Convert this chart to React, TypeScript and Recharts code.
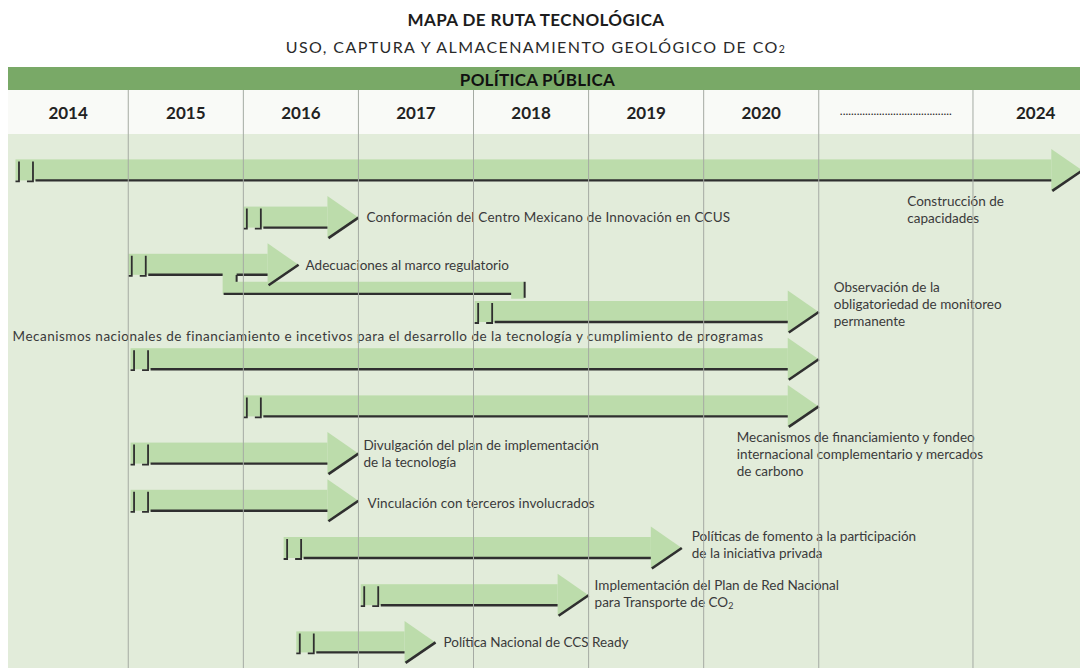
import { Bar, BarChart, ReferenceLine, XAxis, YAxis } from 'recharts';

// Filas del mapa de ruta (de arriba a abajo)
const TASKS = [
  'Construcción de\ncapacidades',
  'Conformación del Centro Mexicano de Innovación en CCUS',
  'Adecuaciones al marco regulatorio',
  'Observación de la\nobligatoriedad de monitoreo\npermanente',
  'Mecanismos nacionales de financiamiento e incetivos para el desarrollo de la tecnología y cumplimiento de programas',
  'Mecanismos de financiamiento y fondeo\ninternacional complementario y mercados\nde carbono',
  'Divulgación del plan de implementación\nde la tecnología',
  'Vinculación con terceros involucrados',
  'Políticas de fomento a la participación\nde la iniciativa privada',
  'Implementación del Plan de Red Nacional\npara Transporte de CO₂',
  'Política Nacional de CCS Ready',
];

// inicio / fin de cada flecha, en columnas (2014 = 0 … 2020 = 6)
const STARTS = [0.02, 2.0, 1.0, 4.01, 1.02, 2.0, 1.02, 1.02, 2.35, 3.02, 2.46];
const ENDS = [9.29, 3.0, 2.48, 7.0, 7.0, 7.0, 3.0, 3.0, 5.81, 5.0, 3.67];

// conector entre "Adecuaciones" y "Observación"
const LINKS = [{ from: 2, to: 3, left: 1.82, right: 4.44 }];

const YEARS = ['2014', '2015', '2016', '2017', '2018', '2019', '2020', '........................................', '2024'];
const COLUMN_EDGES = [-0.045, 1, 2, 3, 4, 5, 6, 7, 8.34, 9.43];

const X_MIN = -0.045;
const X_MAX = 9.27;

// dónde va cada texto respecto a la flecha (dy = centro de la 1a línea)
const LABEL_PLACES = [
  { from: 'tip', dx: -175, dy: 31, ls: 0 },
  { from: 'tip', dx: 8, dy: 0, ls: 0.2 },
  { from: 'tip', dx: 7, dy: 0, ls: 0 },
  { from: 'tip', dx: 15, dy: -25, ls: 0 },
  { from: 'start', dx: -118, dy: -22.5, ls: 0.5 },
  { from: 'tip', dx: -82, dy: 31, ls: 0 },
  { from: 'tip', dx: 5, dy: -8.5, ls: 0 },
  { from: 'tip', dx: 9, dy: 2, ls: 0.1 },
  { from: 'tip', dx: 10, dy: -12, ls: 0 },
  { from: 'tip', dx: 6, dy: -10, ls: 0 },
  { from: 'tip', dx: 8, dy: 0, ls: 0 },
];

const FONT = 'Lato, "Open Sans", sans-serif';
const ARROW = '#bcdcab';
const INK = '#2f2f2f';
const GRID = '#a5aaa3';
const TEXT = '#3a3a3a';
const HEAD_LEN = 31;
const LINE_H = 17;

const rows = TASKS.map((name, i) => ({
  name,
  i,
  start: STARTS[i],
  end: ENDS[i],
  link: LINKS.find((l) => l.from === i),
}));

const tickCenters = YEARS.map((_, i) => (COLUMN_EDGES[i] + COLUMN_EDGES[i + 1]) / 2);

function withSub(line: string) {
  if (!line.includes('₂')) return line;
  const [a, b] = line.split('₂');
  return (
    <>
      {a}
      <tspan fontSize={9} dy={2}>2</tspan>
      {b}
    </>
  );
}

function YearTick(props: any) {
  const { x, y, index, payload } = props;
  const i = index ?? payload?.index ?? 0;
  const label = YEARS[i] ?? '';
  if (label.startsWith('.')) {
    return (
      <text x={x} y={y + 25} textAnchor="middle" fontFamily={FONT} fontSize={11} fill="#1f1f1f"
        textLength={112} lengthAdjust="spacingAndGlyphs">
        {label}
      </text>
    );
  }
  return (
    <text x={x} y={y + 29} textAnchor="middle" fontFamily={FONT} fontWeight={700} fontSize={17} fill="#222">
      {label}
    </text>
  );
}

function Arrow(props: any) {
  const { x, y, width, height, payload, background } = props;
  if (width == null || !payload) return null;
  const cy = y + height / 2;
  const tip = x + width;
  const hs = tip - HEAD_LEN;
  const top = cy - 11;
  const bot = cy + 10;
  const k = width / (payload.end - payload.start);
  const px = (v: number) => x + (v - payload.start) * k;
  const band = background?.height ?? 47.2;
  const link = payload.link;

  let pipe = null;
  let gap: [number, number] | null = null;
  if (link) {
    const xL = px(link.left);
    const xR = px(link.right);
    const pTop = cy + 17;
    const pBot = cy + 29;
    const next = cy + band - 11;
    gap = [xL, xL + 14];
    pipe = (
      <g>
        <path d={`M${xL},${bot - 1} H${xL + 14} V${pTop} H${xR} V${next + 1} H${xR - 13} V${pBot} H${xL} Z`} fill={ARROW} />
        <path d={`M${xL + 14},${bot} V${pTop}`} stroke={INK} strokeWidth={2} fill="none" />
        <path d={`M${xL + 1},${pBot} H${xR - 13}`} stroke={INK} strokeWidth={2.2} fill="none" />
        <path d={`M${xR + 0.5},${pTop} V${next}`} stroke={INK} strokeWidth={2} fill="none" />
      </g>
    );
  }

  const under = gap
    ? `M${x + 20},${bot} H${gap[0]} M${gap[1]},${bot} H${hs}`
    : `M${x + 20},${bot} H${hs}`;

  const place = LABEL_PLACES[payload.i];
  const lx = (place.from === 'tip' ? tip : x) + place.dx;
  const lines = String(payload.name).split('\n');

  return (
    <g>
      {pipe}
      <rect x={x} y={top} width={hs - x} height={bot - top} fill={ARROW} />
      <path d={`M${hs},${cy - 21.5} L${tip},${cy} L${hs},${cy + 20.5} Z`} fill={ARROW} />
      <path d={under} stroke={INK} strokeWidth={2.4} fill="none" />
      <path d={`M${hs + 1},${cy + 20.5} L${tip},${cy}`} stroke={INK} strokeWidth={2.6} fill="none" />
      <path d={`M${x + 3.5},${cy - 9} V${bot + 1} H${x}`} stroke={INK} strokeWidth={1.8} fill="none" />
      <path d={`M${x + 17.5},${cy - 9} V${bot + 1} H${x + 11.5}`} stroke={INK} strokeWidth={1.8} fill="none" />
      <text fontFamily={FONT} fontSize={13.5} fill={TEXT} letterSpacing={place.ls}>
        {lines.map((ln, j) => (
          <tspan key={j} x={lx} y={cy + place.dy + j * LINE_H + 4.7}>
            {withSub(ln)}
          </tspan>
        ))}
      </text>
    </g>
  );
}

export default function App() {
  return (
    <div style={{ position: 'fixed', left: 0, top: 0, width: 1080, height: 668, background: '#fff', overflow: 'hidden', fontFamily: FONT }}>
      <div style={{ position: 'absolute', left: 0, top: 10, width: 1072, textAlign: 'center', fontSize: 17, fontWeight: 700, letterSpacing: 0.4, lineHeight: '20px', color: '#1c1c1c' }}>
        MAPA DE RUTA TECNOLÓGICA
      </div>
      <div style={{ position: 'absolute', left: 0, top: 36, width: 1072, textAlign: 'center', fontSize: 16, letterSpacing: 1.4, lineHeight: '22px', color: '#2a2a2a' }}>
        USO, CAPTURA Y ALMACENAMIENTO GEOLÓGICO DE CO<span style={{ fontSize: 10.5 }}>2</span>
      </div>
      <div style={{ position: 'absolute', left: 8, top: 67, width: 1072, height: 23, background: '#79a967' }} />
      <div style={{ position: 'absolute', left: 0, top: 67, width: 1075, textAlign: 'center', fontSize: 17, fontWeight: 700, letterSpacing: 0.25, lineHeight: '25px', color: '#111' }}>
        POLÍTICA PÚBLICA
      </div>
      <div style={{ position: 'absolute', left: 8, top: 90, width: 1072, height: 44, background: '#f9faf7' }} />
      <div style={{ position: 'absolute', left: 8, top: 134, width: 1072, height: 534, background: '#e2ecda' }} />
      <div style={{ position: 'absolute', left: 0, top: 0 }}>
        <BarChart
          layout="vertical"
          width={1080}
          height={668}
          data={rows}
          margin={{ top: 90, right: 0, bottom: 0, left: 8 }}
          barCategoryGap={0}
        >
          <XAxis
            type="number"
            orientation="top"
            mirror
            domain={[X_MIN, X_MAX]}
            allowDataOverflow
            ticks={tickCenters}
            interval={0}
            height={30}
            tickSize={0}
            tickMargin={0}
            axisLine={false}
            tickLine={false}
            tick={<YearTick />}
          />
          <YAxis type="category" dataKey="name" hide padding={{ top: 56.4, bottom: 2.4 }} />
          {COLUMN_EDGES.slice(1, -1).map((e) => (
            <ReferenceLine key={e} x={e} stroke={GRID} strokeWidth={1} />
          ))}
          <Bar
            dataKey={(d: any) => [d.start, d.end]}
            barSize={44}
            shape={<Arrow />}
            isAnimationActive={false}
          />
        </BarChart>
      </div>
    </div>
  );
}
